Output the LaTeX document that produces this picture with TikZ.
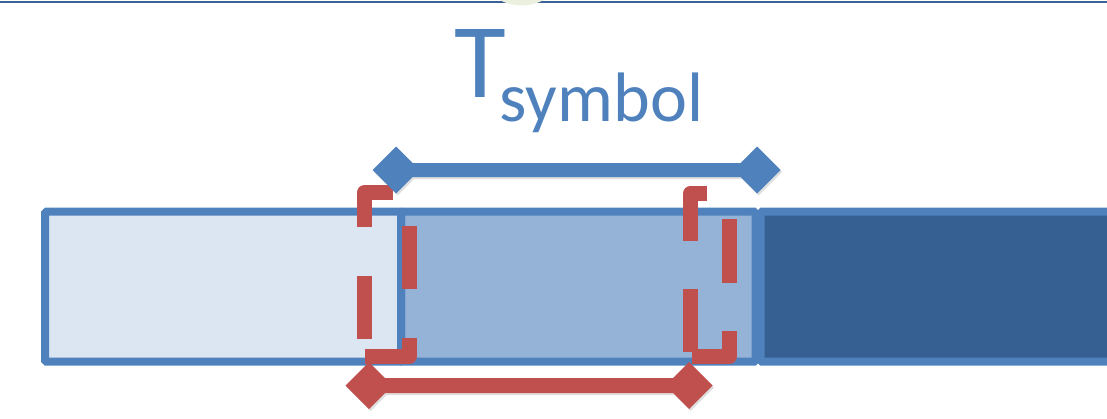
\documentclass[tikz,border=0pt]{standalone}
\usepackage{fontspec}
\newfontfamily\carl{Carlito}
\usetikzlibrary{shadows}
\definecolor{bordblue}{HTML}{4F81BD}
\definecolor{fillA}{HTML}{DCE6F2}
\definecolor{fillB}{HTML}{95B3D7}
\definecolor{fillC}{HTML}{366092}
\definecolor{redC}{HTML}{C0504D}
\definecolor{topline}{HTML}{3B6196}
\definecolor{bump}{HTML}{EBF1DE}
\tikzset{
  boxstyle/.style={draw=bordblue, line width=8pt, rounded corners=1.5pt},
  bracketpiece/.style={draw=redC, line width=15pt, line cap=butt, line join=round},
  arrowshape/.style={drop shadow={shadow xshift=1.5pt, shadow yshift=-2pt, opacity=0.25}},
  labeltext/.style={anchor=base west, inner sep=0pt, text=bordblue}
}
\begin{document}
\begin{tikzpicture}[x=1pt, y=-1pt]
\useasboundingbox (0,0) rectangle (1107,418);
\clip (0,0) rectangle (1107,418);
% top line and bump
\fill[topline] (0,1) rectangle (1107,3.4);
\fill[bump] (521.7,-41.2) circle[radius=46.7];
% boxes
\path[boxstyle, fill=fillC] (760.5,211.7) rectangle (1125,361.7);
\path[boxstyle, fill=fillB] (401,211.7) rectangle (755.5,361.7);
\path[boxstyle, fill=fillA] (45,211.7) rectangle (401,361.7);
% left red dashed bracket
\draw[bracketpiece] (393,192.5) -- (364.5,192.5) -- (364.5,227);
\draw[bracketpiece] (364.5,275.7) -- (364.5,339.3);
\draw[bracketpiece] (365,356.3) -- (409,356.3) -- (409,337.7);
\draw[bracketpiece] (409,289) -- (409,226);
% right red dashed bracket
\draw[bracketpiece] (706.7,193) -- (690.8,193) -- (690.8,240.7);
\draw[bracketpiece] (690.8,289) -- (690.8,352.3);
\draw[bracketpiece] (691.7,356.2) -- (729.2,356.2) -- (729.2,331);
\draw[bracketpiece] (729.2,282.7) -- (729.2,219);
% blue double-diamond arrow
\fill[bordblue, arrowshape] (372.5,170) -- (396,146.5) -- (412.5,163) -- (740.5,163)
  -- (757,146.5) -- (780.5,170) -- (757,193.5) -- (740.5,177) -- (412.5,177)
  -- (396,193.5) -- cycle;
% red double-diamond arrow
\fill[redC, arrowshape] (345.5,385.5) -- (369,362) -- (385,378) -- (673,378)
  -- (689,362) -- (712.5,385.5) -- (689,409) -- (673,393) -- (385,393)
  -- (369,409) -- cycle;
% label
\node[labeltext, font=\carl\fontsize{106}{106}\selectfont] (T) at (454.5,97.3) {T};
\node[labeltext, font=\carl\fontsize{70}{70}\selectfont] (sub) at (499.5,121.7) {symbol};
\end{tikzpicture}
\end{document}
